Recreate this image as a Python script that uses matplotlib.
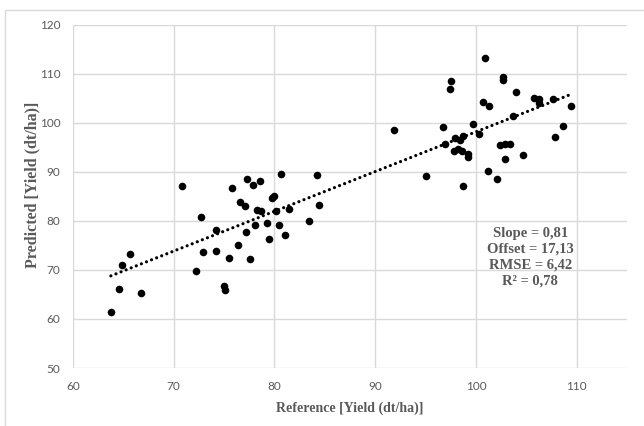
import matplotlib
matplotlib.use("Agg")
import matplotlib.pyplot as plt
from matplotlib.patches import Rectangle

reference = [63.76, 64.58, 64.9, 65.64, 66.78, 70.87, 72.21, 72.75, 72.95, 74.2,
             74.2, 75.03, 75.11, 75.44, 75.77, 76.42, 76.6, 77.1, 77.16, 77.3,
             77.57, 77.9, 78.06, 78.3, 78.6, 78.66, 79.24, 79.44, 79.8, 79.93,
             80.15, 80.42, 80.65, 81.04, 81.4, 83.45, 84.26, 84.47, 91.9, 95.05,
             96.78, 96.98, 97.4, 97.5, 97.8, 97.95, 98.2, 98.4, 98.6, 98.7,
             98.75, 99.2, 99.2, 99.75, 100.28, 100.75, 100.95, 101.2, 101.3, 102.1,
             102.42, 102.64, 102.66, 102.87, 102.86, 103.37, 103.67, 104.0, 104.65, 105.78,
             106.25, 106.3, 107.68, 107.9, 108.6, 109.43]
predicted = [61.4, 66.2, 70.9, 73.2, 65.3, 87.0, 69.8, 80.8, 73.65, 78.2,
             73.85, 66.65, 65.9, 72.36, 86.77, 75.14, 83.9, 83.1, 77.73, 88.6,
             72.15, 87.35, 79.22, 82.2, 88.1, 81.9, 79.5, 76.23, 84.6, 85.0,
             81.9, 79.22, 89.55, 77.05, 82.3, 79.9, 89.35, 83.3, 98.5, 89.14,
             99.05, 95.55, 106.9, 108.42, 94.25, 96.9, 94.7, 96.4, 94.3, 87.0,
             97.2, 93.6, 93.0, 99.8, 97.7, 104.15, 113.1, 90.2, 103.3, 88.45,
             95.35, 109.25, 108.65, 95.7, 92.6, 95.7, 101.3, 106.3, 93.4, 105.0,
             104.8, 103.95, 104.8, 97.08, 99.4, 103.3]

slope = 0.81
offset = 17.13
stats_text = "Slope = 0,81\nOffset = 17,13\nRMSE = 6,42\nR\u00b2 = 0,78"
x_label = "Reference [Yield (dt/ha)]"
y_label = "Predicted [Yield (dt/ha)]"
x_ticks = [60, 70, 80, 90, 100, 110]
y_ticks = [50, 60, 70, 80, 90, 100, 110, 120]

fig = plt.figure(figsize=(6.44, 4.26), dpi=100)
ax = fig.add_axes([73/644, 1-368/426, (627-73)/644, (368-24.5)/426])

grid_c = "#d9d9d9"
text_c = "#595959"

ax.scatter(reference, predicted, s=30, color="black", zorder=3, linewidths=0)

x0, x1 = min(reference), max(reference)
ax.plot([x0, x1], [slope*x0 + offset, slope*x1 + offset], color="black",
        linewidth=2.3, linestyle=(0, (0.01, 1.7)), dash_capstyle="round", zorder=2)

ax.set_xlim(60, 115)
ax.set_ylim(50, 120)
ax.set_xticks(x_ticks)
ax.set_yticks(y_ticks)
ax.grid(True, color=grid_c, linewidth=1.0)
ax.set_axisbelow(True)
for s in ax.spines.values():
    s.set_visible(False)
ax.tick_params(length=0, labelsize=8.5, labelcolor=text_c, pad=9)
for lab in ax.get_xticklabels() + ax.get_yticklabels():
    lab.set_fontfamily("Lato")

ax.set_xlabel(x_label, fontfamily="Liberation Serif", fontweight="bold",
              fontsize=10, color=text_c, labelpad=7)
ax.set_ylabel(y_label, fontfamily="Liberation Serif", fontweight="bold",
              fontsize=11.5, color=text_c)
ax.yaxis.set_label_coords(-0.058, 0.533)

ax.text(105.4, 72.6, stats_text, ha="center", va="center", fontsize=10.5,
        fontfamily="Liberation Serif", fontweight="bold", color=text_c,
        linespacing=1.3, zorder=4)

fig.patches.append(Rectangle((5/644, -0.5), 2.0, 1.5 - 10/426,
                             transform=fig.transFigure, fill=False,
                             edgecolor=grid_c, linewidth=1.0))

fig.savefig("out.png", dpi=100)
